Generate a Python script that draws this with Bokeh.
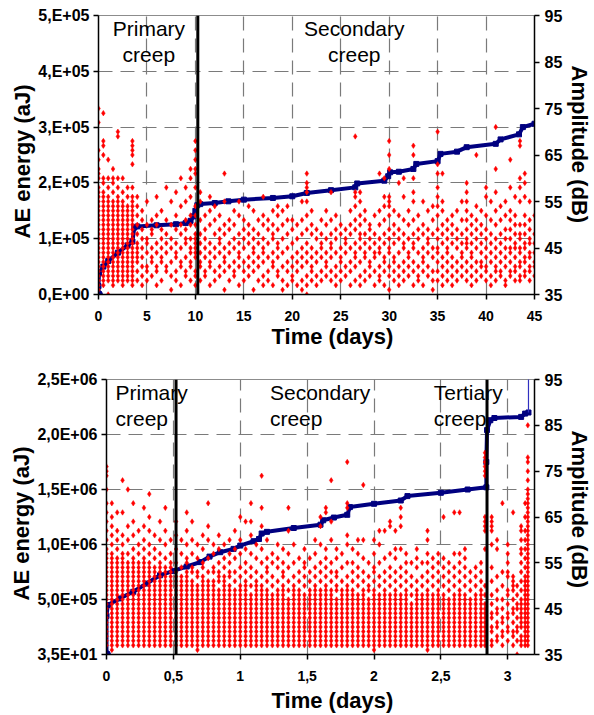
from bokeh.plotting import figure
from bokeh.models import Range1d, LinearAxis, FixedTicker, Span, Label, Title
from bokeh.embed import file_html
from bokeh.resources import INLINE

FONT = "Liberation Sans"

# ---------------- shared right axis (amplitude) ----------------
db_ticks = [35, 45, 55, 65, 75, 85, 95]

# ---------------- upper test: 0-45 days ----------------
top_x_ticks = [0, 5, 10, 15, 20, 25, 30, 35, 40, 45]
top_x_labels = ["0", "5", "10", "15", "20", "25", "30", "35", "40", "45"]
top_y_ticks = [0, 100000, 200000, 300000, 400000, 500000]
top_y_labels = ["0,E+00", "1,E+05", "2,E+05", "3,E+05", "4,E+05", "5,E+05"]
top_stage_days = [10.25]

# amplitude hits (dB) read column by column: (day, "dB values / filled ranges")
top_amp_columns = [
    (0.0, "36-58 60 61 62 64 66 72 75"), (0.5, "37-57 59 60 65 67 68 74"),
    (1.0, "35 38-56 58 60 64"), (1.5, "37-55 57 59 60 62"),
    (2.0, "38-56 58 60 69 70"), (2.5, "37-55 57 60"),
    (3.0, "38-54 56 58"), (3.5, "37-56 58 63 65 66 67 68"),
    (4.0, "38 40 42-46 48 50 52 54 56"), (4.5, "37 39 41 43 45 47 49 51 53"),
    (5.0, "38 40 41 44 46 47 50 55"), (5.5, "39 42 43 45 48 49 51"),
    (6.0, "37 40 41 44 46 50 52 56"), (6.5, "38 42 43 45 47 49 53"),
    (7.0, "40 41 44 46 48 51 58"), (7.5, "36 39 42 45 47 50 55"),
    (8.0, "38 40 43 44 46 49 52 57"), (8.5, "37 41 42 45 48 50 54 60"),
    (9.0, "39 40 43 46 47 49 51 55 58"), (9.5, "38 41 42 44 45 47 50 52 56 60 62"),
    (10.0, "37 39 40 43-48 50 52 54 58 61 62 64 66 68"), (10.5, "38 41 42 44 46 48 51 55 57"),
    (11.0, "39 40 43 45 47 49 52"), (11.5, "37 41 42 44 46 50 53 56"),
    (12.0, "38 40 43 45 48 51 54"), (12.5, "39 41 44 46 47 49 52"),
    (13.0, "36 40 42 43 45 48 50 55 61"), (13.5, "38 41 44 46 49 51"),
    (14.0, "39 40 42 45 47 50 53"), (14.5, "37 41 43 44 46 48 52 55"),
    (15.0, "38 40 42 45 47 49 51"), (15.5, "39 41 43 46 48 50 54"),
    (16.0, "36 40 42 44 45 47 49 53"), (16.5, "38 41 43 46 48 51"),
    (17.0, "37 39 42 44 45 47 50 52 56"), (17.5, "38 40 43 46 49 51"),
    (18.0, "37 41 42 44 47 48 50 53"), (18.5, "39 40 43 45 46 49 52 54"),
    (19.0, "36 38 41 44 47 50 53"), (19.5, "37 40 42 45 48 51 54"),
    (20.0, "38 39 41 43 46 49 51"), (20.5, "37 40 42 44 47 50"),
    (21.0, "36 38 41 43 45 48 51 55"), (21.5, "35 37 39 42 44 46 49 52 55 57 58 59 61"),
    (22.0, "38 40 41 43 45 48 50 53"), (22.5, "37 39 42 44 47 49"),
    (23.0, "38 40 43 45 46 48 51"), (23.5, "39 41 42 44 47 50 53"),
    (24.0, "38 40 43 45 46 48 51 57"), (24.5, "37 39 41 44 47 49 52"),
    (25.0, "38 40 42 43 45 48 50"), (25.5, "39 41 44 46 47 49"),
    (26.0, "37 40 42 45 48 50 53"), (26.5, "38 41 43 44 46 49 51 54 56 57 69"),
    (27.0, "37 39 42 45 47 48 50 52 55 57"), (27.5, "38 40 43 44 46 48 51 53"),
    (28.0, "39 41 42 45 47 49 50"), (28.5, "37 40 43 44 46 48 52"),
    (29.0, "38 39 41 44 45 47 50 53 61"), (29.5, "37 40 42 43 46 48 51 54 56 60"),
    (30.0, "36 39 41 44 45 47 49 52 54 55 56 62 65 68"), (30.5, "38 40 42 43 46 48 50 53"),
    (31.0, "37 39 41 44 47 49 52 59"), (31.5, "38 40 42 45 46 48 51 56 60"),
    (32.0, "39 41 43 44 47 50 53"), (32.5, "37 40 42 45 46 48 51 55 57 60 65 67"),
    (33.0, "38 39 41 44 47 49 52"), (33.5, "37 40 42 43 45 48 50 55"),
    (34.0, "39 41 44 46 47 49 53"), (34.5, "36 38 40 43 45 48 51 54"),
    (35.0, "38 40 42 44 45 47 49 52 54 56 58 61 63 70"), (35.5, "37 39 41 43 46 48 50 53 55 61"),
    (36.0, "38 40 42 44 45 47 49 51"), (36.5, "37 39 41 43 46 48 50 52"),
    (37.0, "38 40 42 45 47 49 53"), (37.5, "39 41 43 44 46 48 51 55"),
    (38.0, "38 40 42 45 46 47 49 51 53 55 57 59"), (38.5, "37 39 41 43 44 46 48 50 52"),
    (39.0, "38 40 42 45 47 49 51 54 65"), (39.5, "39 41 42 44 46 48 50 53"),
    (40.0, "38 40 41 43 45 47 49 52 56 58"), (40.5, "37 39 42 44 46 48 51 55"),
    (41.0, "38 40 41 43 45 47 50 53 57 62 71"), (41.5, "39 40 42 44 46 48 51 54"),
    (42.0, "37 38 41 43 45 47 49 52 55"), (42.5, "39 40 42 44 45 47 49 51 53 58 64"),
    (43.0, "38 40 41 43 45 46 48 50 52 56"), (43.5, "38 39 41 42 44 45 47 48 50 55 58 60 67 68"),
    (44.0, "39 40 42 43 45 46 48 50 52 56 59 61"), (44.5, "38 40 41 43 44 46 47 49 51 55"),
    (45.0, "39 41 42 44 46 48 52"),
]

# cumulative AE energy (aJ)
top_cum_days = [0, 0, 0.05, 0.5, 1, 2, 3, 3.5, 3.7, 4, 6, 8, 9, 9.5, 9.8, 10.0, 10.2, 10.5,
                12, 13.4, 15, 18, 20, 21.5, 24, 26.5, 26.7, 29.5, 29.9, 30.1, 31, 32.5, 32.8,
                35, 35.3, 37, 38, 41, 41.5, 43.4, 43.8, 45]
top_cum_energy = [0, 15000, 38000, 50000, 60000, 75000, 88000, 95000, 120000, 122000, 124000,
                  126000, 128000, 132000, 140000, 150000, 160000, 162000, 164000, 167000,
                  170000, 173000, 176000, 182000, 187000, 192000, 199000, 204000, 212000,
                  219000, 220000, 225000, 234000, 239000, 252000, 256000, 264000, 270000,
                  278000, 287000, 300000, 306000]

# ---------------- lower test: 0-3.2 days ----------------
bot_x_ticks = [0, 0.5, 1, 1.5, 2, 2.5, 3]
bot_x_labels = ["0", "0,5", "1", "1,5", "2", "2,5", "3"]
bot_y_ticks = [35, 500000, 1000000, 1500000, 2000000, 2500000]
bot_y_labels = ["3,5E+01", "5,0E+05", "1,0E+06", "1,5E+06", "2,0E+06", "2,5E+06"]
bot_stage_days = [0.52, 2.845]

bot_amp_columns = [
    (0.00, "37-58 60 62 64 66 68 71 74 75 76"), (0.04, "36-57 59 61 63 65 68"),
    (0.08, "37-56 58 60 62 66"), (0.12, "37-57 59 61 66 73"),
    (0.16, "37-55 57 60 63 71"), (0.20, "37-56 58 61 64 68"),
    (0.24, "37-55 57 59 62"), (0.28, "37-56 58 60 63 67"),
    (0.32, "37-55 57 59 62 65 70"), (0.36, "37-54 56 58 61"),
    (0.40, "37-55 57 60 64"), (0.44, "37-54 56 59 62 67"),
    (0.48, "37-55 57 60"), (0.52, "37-53 55 58 61 64"),
    (0.56, "37-52 54 57 60"), (0.60, "37-53 55 56 59 62 66"),
    (0.64, "37-51 53 54 57 60 64"), (0.68, "36-50 52 53 56 59"),
    (0.72, "37-52 54 55 58 61"), (0.76, "37-50 51 53 56 60 63 68"),
    (0.80, "37-51 53 54 57 59"), (0.84, "37-49 51 52 53 55 58 61"),
    (0.88, "37-52 54 56 59"), (0.92, "37-50 52 53 55 57 60"),
    (0.96, "37-49 51 53 56 58 62"), (1.00, "37-50 52 54 57 60 65"),
    (1.04, "37-51 53 55 58 64"), (1.08, "37-48 50 52 54 57 61 64 68"),
    (1.12, "37-51 53 56 59"), (1.16, "37-50 52 55 58 63 67 74"),
    (1.20, "37-49 51 53 54 56 60"), (1.24, "37-48 50 52 55 57"),
    (1.28, "37-49 51 54 56 59"), (1.32, "37-50 52 53 55 58"),
    (1.36, "37-47 49 51 54 57 62 67"), (1.40, "37-50 52 55 59"),
    (1.44, "37-49 51 53 56"), (1.48, "37-48 50 52 54 55 58"),
    (1.52, "37-49 51 53 56"), (1.56, "37-50 52 54 57 60"),
    (1.60, "37-48 49 51 53 55 59 63 65"), (1.64, "37-50 52 54 56 58 66 67"),
    (1.68, "37-49 51 53 55 60 64 73"), (1.72, "37-47 49 50 52 53 56 58"),
    (1.76, "37-49 51 54 57"), (1.80, "37-50 52 55 59 61 67 68 77"),
    (1.84, "37-49 51 53 55 58"), (1.88, "37-48 50 52 54 57 60"),
    (1.92, "37-49 51 53 56 60 72"), (1.96, "37-47 49 50 52 55"),
    (2.00, "36-49 51 53 54 57 60"), (2.04, "37-48 50 52 55 59 62"),
    (2.08, "37-49 51 53 56 62"), (2.12, "37-47 48 50 52 54 57 63 64"),
    (2.16, "37-49 51 53 56 58 62"), (2.20, "37-48 50 52 54 58 63 65 67"),
    (2.24, "37-49 51 53 55 57"), (2.28, "37-46 48 50 52 55"),
    (2.32, "37-49 51 54 56 58"), (2.36, "37-48 50 52 55"),
    (2.40, "36-49 51 53 55 57 60 62"), (2.44, "37-47 48 50 52 54 56"),
    (2.48, "37-49 51 53 55 57"), (2.52, "37-48 50 52 54 56 65"),
    (2.56, "37-47 49 51 53 55"), (2.60, "37-48 50 52 54 57 66"),
    (2.64, "37-49 51 53 55 57 66"), (2.68, "37-48 50 52 54 56 58"),
    (2.72, "37-47 49 51 53"), (2.76, "37-48 50 52 54"),
    (2.80, "37-49 51 53 55"), (2.83, "37-46 48 50 58 62 63 64 65 74 75 76 77 78 79"),
    (2.88, "37 38 40 41 43 44 46 48 51 54 59 62 63 64 65"),
    (2.92, "38 39 41 42 44 45 47 49 52 58 60"),
    (2.96, "37 39 40 42 43 45 47 50 53 68"),
    (3.00, "38 40 41 43 44 46 48 49 52 53 55 57 59"),
    (3.04, "37 39 40 42 44 45 47 49 50 51 52 66"),
    (3.07, "35 38 40 41 43 45 46 48 50"),
    (3.10, "37 38 39 41-47 49 51 53 55 57 58 60 62 63"),
    (3.13, "37-52 54 56 58 60 62 65 68"),
    (3.15, "37-71 73 75 77 78 85"),
]

bot_cum_days = [0, 0, 0.01, 0.1, 0.2, 0.3, 0.4, 0.5, 0.6, 0.7, 0.77, 0.85, 0.95, 1.0, 1.1,
                1.14, 1.16, 1.2, 1.4, 1.6, 1.62, 1.7, 1.8, 1.82, 2.0, 2.2, 2.25, 2.5, 2.7,
                2.84, 2.84, 2.845, 2.87, 2.9, 3.1, 3.13, 3.155]
bot_cum_energy = [35, 350000, 450000, 510000, 570000, 645000, 720000, 760000, 800000, 840000,
                  890000, 930000, 960000, 990000, 1030000, 1050000, 1100000, 1115000, 1150000,
                  1180000, 1220000, 1245000, 1270000, 1340000, 1370000, 1400000, 1440000,
                  1470000, 1500000, 1520000, 1750000, 2040000, 2130000, 2150000, 2160000,
                  2190000, 2200000]
bot_final_days = [3.155, 3.155]
bot_final_energy = [2200000, 2600000]


def expand(columns):
    xs, ys = [], []
    for day, spec in columns:
        for tok in spec.split():
            if "-" in tok:
                a, b = (int(v) for v in tok.split("-"))
                vals = range(a, b + 1)
            else:
                vals = [int(tok)]
            for v in vals:
                xs.append(day)
                ys.append(v)
    return xs, ys


def build(height, bl, bt, bb, x_end, y_lo, y_hi, x_ticks, x_labels, y_ticks, y_labels,
          amp_columns, cum_days, cum_energy, stages, texts, tb_offset, tb_standoff,
          tl_offset, tr_offset):
    p = figure(width=594, height=height, x_range=Range1d(0, x_end),
               y_range=Range1d(y_lo, y_hi), output_backend="svg", toolbar_location=None,
               min_border_left=bl, min_border_right=58, min_border_top=bt,
               min_border_bottom=bb)
    p.outline_line_color = "#8c8c8c"
    p.outline_line_width = 1
    p.background_fill_color = "white"
    p.border_fill_color = "white"
    p.extra_y_ranges = {"db": Range1d(35, 95)}

    xa = p.xaxis[0]
    ya = p.yaxis[0]
    xa.ticker = FixedTicker(ticks=x_ticks)
    xa.major_label_overrides = dict(zip(x_ticks, x_labels))
    ya.ticker = FixedTicker(ticks=y_ticks)
    ya.major_label_overrides = dict(zip(y_ticks, y_labels))
    ra = LinearAxis(y_range_name="db", ticker=FixedTicker(ticks=db_ticks))
    p.add_layout(ra, "right")
    for ax in (xa, ya, ra):
        ax.axis_line_color = "black"
        ax.axis_line_width = 1.5
        ax.major_tick_line_color = "black"
        ax.major_tick_line_width = 1.5
        ax.major_tick_out = 5
        ax.major_tick_in = 0
        ax.minor_tick_out = 0
        ax.minor_tick_in = 0
        ax.major_label_text_font = FONT
        ax.major_label_text_font_style = "bold"
        ax.major_label_text_color = "black"
        ax.major_label_text_font_size = "16px"
    xa.major_label_text_font_size = "14px"
    xa.major_label_standoff = 11
    ya.major_label_standoff = 4
    ra.major_label_standoff = 5

    p.xgrid[0].ticker = FixedTicker(ticks=x_ticks)
    p.ygrid[0].ticker = FixedTicker(ticks=y_ticks)
    for g in (p.xgrid[0], p.ygrid[0]):
        g.grid_line_color = "#7a7a7a"
        g.grid_line_dash = "14 8"
        g.grid_line_width = 1.2

    # cumulative energy (left axis)
    p.line(cum_days, cum_energy, line_color="#000080", line_width=4)
    p.scatter(cum_days, cum_energy, marker="square", size=5, color="#000080")
    p.scatter(cum_days[:1], cum_energy[:1], marker="circle", size=8, color="#000080")

    # amplitude of hits (right axis)
    ax_, ay_ = expand(amp_columns)
    p.scatter(ax_, ay_, y_range_name="db", marker="diamond", size=5.5,
              fill_color="#ff0000", line_color="#ff0000", line_width=0.5)

    for (tx, align, l1, l2) in texts:
        for txt, off in ((l1, 0), (l2, -26)):
            p.add_layout(Label(x=tx, y=y_hi, text=txt, text_align=align,
                               text_baseline="top", y_offset=off - 1, text_font=FONT,
                               text_font_size="21px", text_color="black"))
    for s in stages:
        p.add_layout(Span(location=s, dimension="height", line_color="black",
                          line_width=3))

    tb = Title(text="Time (days)", align="left", offset=tb_offset, standoff=tb_standoff,
               text_font=FONT, text_font_size="22px", text_font_style="bold",
               text_color="black")
    p.add_layout(tb, "below")
    tl = Title(text="AE energy (aJ)", align="left", offset=tl_offset, standoff=2,
               text_font=FONT, text_font_size="22px", text_font_style="bold",
               text_color="black")
    p.add_layout(tl, "left")
    tr = Title(text="Amplitude (dB)", align="left", offset=tr_offset, standoff=2,
               text_font=FONT, text_font_size="22px", text_font_style="bold",
               text_color="black")
    p.add_layout(tr, "right")
    return p


top_texts = [(5.2, "center", "Primary", "creep"), (26.4, "center", "Secondary", "creep")]
bot_texts = [(0.067, "left", "Primary", "creep"), (1.222, "left", "Secondary", "creep"),
             (2.447, "left", "Tertiary", "creep")]

p1 = build(354, 98, 15, 60, 45, 0, 500000, top_x_ticks, top_x_labels, top_y_ticks,
           top_y_labels, top_amp_columns, top_cum_days, top_cum_energy, top_stage_days,
           top_texts, 173, -4, 56, 50)
p2 = build(360, 106, 25, 60, 3.2, 35, 2500000, bot_x_ticks, bot_x_labels, bot_y_ticks,
           bot_y_labels, bot_amp_columns, bot_cum_days, bot_cum_energy, bot_stage_days,
           bot_texts, 165, 4, 54, 51)
p2.line(bot_final_days, bot_final_energy, line_color="#3030c0", line_width=1.2)

# two separate roots stacked on the page (keeps each panel's own frame position)
open("out.html", "w").write(file_html([p1, p2], INLINE))
